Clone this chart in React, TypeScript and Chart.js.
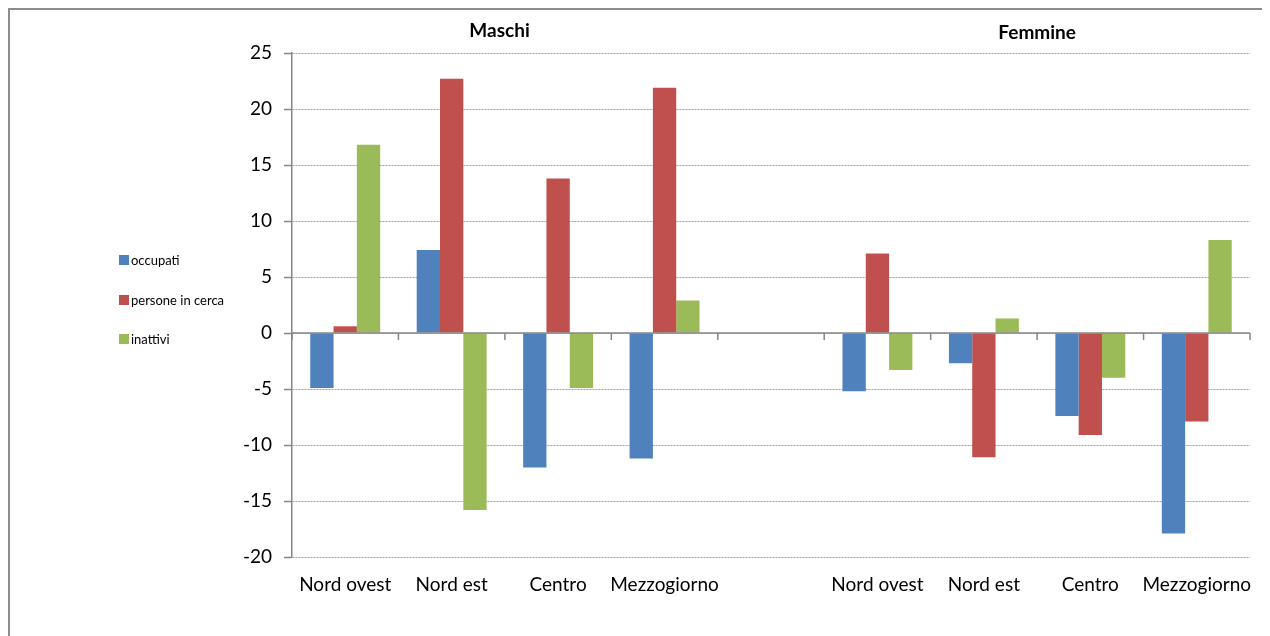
import React, { useEffect, useRef } from "react";
import { Chart, registerables } from "chart.js";

Chart.register(...registerables);

const categories = ["Nord ovest", "Nord est", "Centro", "Mezzogiorno", "", "Nord ovest", "Nord est", "Centro", "Mezzogiorno"];
const occupati = [-4.9, 7.4, -12.0, -11.2, null, -5.2, -2.7, -7.4, -17.9];
const personeInCerca = [0.6, 22.7, 13.8, 21.9, null, 7.1, -11.1, -9.1, -7.9];
const inattivi = [16.8, -15.8, -4.9, 2.9, null, -3.3, 1.3, -4.0, 8.3];
const seriesNames = ["occupati", "persone in cerca", "inattivi"];
const seriesColors = ["#4F81BD", "#C0504D", "#9BBB59"];
const groupTitles = ["Maschi", "Femmine"];
const groupTitlePos = [1.45, 6.5];
const yTicks = { min: -20, max: 25, step: 5 };

const FONT = "Lato, 'Open Sans', sans-serif";

const decorPlugin = {
  id: "decor",
  beforeDraw(chart: any) {
    const { ctx, width, height } = chart;
    ctx.save();
    ctx.fillStyle = "#ffffff";
    ctx.fillRect(0, 0, width, height);
    ctx.strokeStyle = "#8c8c8c";
    ctx.lineWidth = 2;
    ctx.beginPath();
    ctx.moveTo(1, height);
    ctx.lineTo(1, 1);
    ctx.lineTo(width, 1);
    ctx.stroke();
    ctx.restore();
  },
  afterDatasetsDraw(chart: any) {
    const { ctx, chartArea } = chart;
    const x = chart.scales.x;
    const y = chart.scales.y;
    const y0 = y.getPixelForValue(0);
    ctx.save();
    ctx.strokeStyle = "#868686";
    ctx.lineWidth = 1.5;
    ctx.beginPath();
    ctx.moveTo(chartArea.left, y0);
    ctx.lineTo(chartArea.right, y0);
    for (let i = 0; i <= categories.length; i++) {
      const px = x.getPixelForValue(i - 0.5);
      ctx.moveTo(px, y0);
      ctx.lineTo(px, y0 + 7);
    }
    ctx.stroke();
    ctx.restore();
  },
  afterDraw(chart: any) {
    const { ctx } = chart;
    const x = chart.scales.x;
    ctx.save();
    ctx.fillStyle = "#000";
    ctx.font = `bold 19px ${FONT}`;
    ctx.textAlign = "center";
    ctx.textBaseline = "middle";
    ctx.fillText(groupTitles[0], x.getPixelForValue(groupTitlePos[0]), 23);
    ctx.fillText(groupTitles[1], x.getPixelForValue(groupTitlePos[1]), 25);
    // legend
    ctx.font = `13px ${FONT}`;
    ctx.textAlign = "left";
    const centers = [252, 292, 331];
    chart.data.datasets.forEach((ds: any, i: number) => {
      const cy = centers[i];
      ctx.fillStyle = ds.backgroundColor;
      ctx.fillRect(111, cy - 5, 10, 10);
      ctx.fillStyle = "#000";
      ctx.fillText(ds.label, 123, cy + 1);
    });
    ctx.restore();
  },
};

export default function App() {
  const ref = useRef<HTMLCanvasElement | null>(null);
  useEffect(() => {
    if (!ref.current) return;
    const data = [occupati, personeInCerca, inattivi];
    const chart = new Chart(ref.current, {
      type: "bar",
      data: {
        labels: categories,
        datasets: seriesNames.map((name, i) => ({
          label: name,
          data: data[i] as any,
          backgroundColor: seriesColors[i],
          borderWidth: 0,
          categoryPercentage: 0.657,
          barPercentage: 1.0,
        })),
      },
      options: {
        animation: false,
        responsive: false,
        layout: { padding: { left: 0, top: 45, right: 20, bottom: 0 } },
        plugins: {
          legend: { display: false },
          tooltip: { enabled: false },
          title: { display: false },
        },
        scales: {
          x: {
            type: "category",
            grid: { display: false, drawTicks: false },
            border: { display: false },
            ticks: {
              autoSkip: false,
              maxRotation: 0,
              minRotation: 0,
              padding: 16,
              color: "#000",
              font: { family: FONT, size: 19 },
            },
            afterFit: (s: any) => {
              s.height = 79;
            },
          },
          y: {
            min: yTicks.min,
            max: yTicks.max,
            ticks: {
              stepSize: yTicks.step,
              padding: 12,
              color: "#000",
              font: { family: FONT, size: 19 },
            },
            grid: {
              color: "#a0a0a0",
              lineWidth: 1,
              tickColor: "#868686",
              tickLength: 8,
              tickWidth: 1.5,
              tickBorderDash: [],
            },
            border: { display: true, color: "#868686", width: 1.5, dash: [2, 1] },
            afterFit: (s: any) => {
              s.width = 284;
            },
          },
        },
      },
      plugins: [decorPlugin],
    });
    return () => chart.destroy();
  }, []);
  return (
    <div style={{ width: 1262, height: 628 }}>
      <canvas ref={ref} width={1262} height={628} style={{ display: "block" }} />
    </div>
  );
}
